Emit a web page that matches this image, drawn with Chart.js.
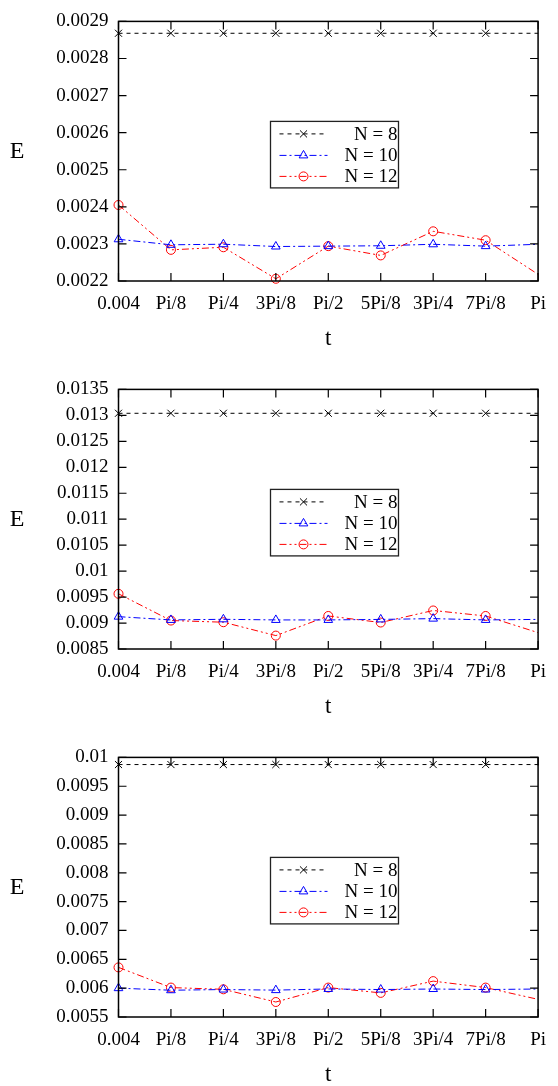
<!DOCTYPE html>
<html>
<head>
<meta charset="UTF-8">
<title>E vs t</title>
<script src="https://cdn.jsdelivr.net/npm/chart.js"></script>
<style>
  body { margin: 0; background: #fff; }
  .panel { position: absolute; left: 0; width: 558px; height: 350px; }
</style>
</head>
<body>
<div class="panel" style="top:0px"><canvas id="c1" width="558" height="350"></canvas></div>
<div class="panel" style="top:368px"><canvas id="c2" width="558" height="350"></canvas></div>
<div class="panel" style="top:736px"><canvas id="c3" width="558" height="350"></canvas></div>

<script>
// x positions (0.004 ... Pi in steps of Pi/8) and their labels
const tPos = [0, 1, 2, 3, 4, 5, 6, 7, 8];
const tLabels = ['0.004', 'Pi/8', 'Pi/4', '3Pi/8', 'Pi/2', '5Pi/8', '3Pi/4', '7Pi/8', 'Pi'];
const seriesNames = ['N = 8', 'N = 10', 'N = 12'];

// panel 1
const e1N8  = [0.002868, 0.002868, 0.002868, 0.002868, 0.002868, 0.002868, 0.002868, 0.002868, 0.002868];
const e1N10 = [0.0023125, 0.0022976, 0.0022992, 0.002293, 0.002294, 0.002295, 0.002299, 0.002294, 0.002299];
const e1N12 = [0.002405, 0.002284, 0.002291, 0.002206, 0.002294, 0.002269, 0.002334, 0.00231, 0.002218];
const yRange1 = [0.0022, 0.0029, 0.0001];

// panel 2
const e2N8  = [0.01304, 0.01304, 0.01304, 0.01304, 0.01304, 0.01304, 0.01304, 0.01304, 0.01304];
const e2N10 = [0.009123, 0.00906, 0.009072, 0.00906, 0.00906, 0.00907, 0.009085, 0.00906, 0.00907];
const e2N12 = [0.009563, 0.009048, 0.009016, 0.008758, 0.009136, 0.00901, 0.009242, 0.009136, 0.008815];
const yRange2 = [0.0085, 0.0135, 0.0005];

// panel 3
const e3N8  = [0.009876, 0.009876, 0.009876, 0.009876, 0.009876, 0.009876, 0.009876, 0.009876, 0.009876];
const e3N10 = [0.006, 0.005964, 0.005976, 0.005966, 0.005986, 0.005976, 0.005985, 0.005976, 0.005985];
const e3N12 = [0.00636, 0.00601, 0.00598, 0.00576, 0.00601, 0.005918, 0.006122, 0.00601, 0.005806];
const yRange3 = [0.0055, 0.01, 0.0005];

const serif = 'Liberation Serif';
Chart.defaults.font.family = serif;
Chart.defaults.color = '#000';

// styles per series
const styles = [
  { color: '#000000', dash: [4, 4], point: 'crossRot', radius: 5 },
  { color: '#0000ff', dash: [7, 3, 2, 3], point: 'triangle', radius: 5 },
  { color: '#ff0000', dash: [7, 3, 2, 3, 2, 3], point: 'circle', radius: 4.5 }
];

function makeDataset(i, vals) {
  const s = styles[i];
  // last point (Pi) sits on the border; gnuplot didn't draw its marker
  const radii = tPos.map((x, k) => k === tPos.length - 1 ? 0 : s.radius);
  return {
    label: seriesNames[i],
    data: tPos.map((x, k) => ({ x: x, y: vals[k] })),
    borderColor: s.color,
    borderWidth: 1,
    borderDash: s.dash,
    pointStyle: s.point,
    pointRadius: radii,
    pointBorderColor: s.color,
    pointBackgroundColor: 'rgba(0,0,0,0)',
    pointBorderWidth: 1,
    fill: false,
    tension: 0,
    clip: false
  };
}

function fmt(v) {
  return String(parseFloat(v.toFixed(6)));
}

// frame, inward ticks, "E" label and legend box
const framePlugin = {
  id: 'frame',
  afterDraw(chart) {
    const ctx = chart.ctx;
    const a = chart.chartArea;
    const xs = chart.scales.x, ys = chart.scales.y;
    ctx.save();
    ctx.strokeStyle = '#000';
    ctx.lineWidth = 1.5;
    ctx.setLineDash([]);
    ctx.strokeRect(a.left, a.top, a.right - a.left, a.bottom - a.top);
    ctx.lineWidth = 1.2;
    ctx.beginPath();
    xs.ticks.forEach(t => {
      const px = xs.getPixelForValue(t.value);
      ctx.moveTo(px, a.bottom); ctx.lineTo(px, a.bottom - 8);
      ctx.moveTo(px, a.top); ctx.lineTo(px, a.top + 8);
    });
    ys.ticks.forEach(t => {
      const py = ys.getPixelForValue(t.value);
      ctx.moveTo(a.left, py); ctx.lineTo(a.left + 8, py);
      ctx.moveTo(a.right, py); ctx.lineTo(a.right - 8, py);
    });
    ctx.stroke();

    // y axis label, horizontal
    ctx.fillStyle = '#000';
    ctx.font = '24px ' + serif;
    ctx.textAlign = 'center';
    ctx.textBaseline = 'middle';
    ctx.fillText('E', 17, 152);

    // legend
    const bx = a.left + 152, by = a.top + 100, bw = 128, bh = 66.5;
    ctx.strokeStyle = '#222';
    ctx.lineWidth = 1.3;
    ctx.strokeRect(bx, by, bw, bh);
    ctx.font = '19px ' + serif;
    ctx.textAlign = 'right';
    const rows = [12.5, 34, 55];
    chart.data.datasets.forEach((ds, i) => {
      const ry = by + rows[i];
      ctx.strokeStyle = ds.borderColor;
      ctx.lineWidth = 1;
      ctx.setLineDash(ds.borderDash);
      ctx.beginPath();
      ctx.moveTo(bx + 9, ry); ctx.lineTo(bx + 57, ry);
      ctx.stroke();
      ctx.setLineDash([]);
      if (Chart.helpers && Chart.helpers.drawPoint) {
        ctx.fillStyle = 'rgba(0,0,0,0)';
        ctx.strokeStyle = ds.borderColor;
        Chart.helpers.drawPoint(ctx, {
          pointStyle: ds.pointStyle, radius: styles[i].radius, rotation: 0, borderWidth: 1
        }, bx + 33, ry);
      }
      ctx.fillStyle = '#000';
      ctx.fillText(ds.label, bx + bw - 1, ry + 1);
    });
    ctx.restore();
  }
};

function makeChart(id, n8, n10, n12, yr) {
  return new Chart(document.getElementById(id), {
    type: 'line',
    data: {
      datasets: [makeDataset(0, n8), makeDataset(1, n10), makeDataset(2, n12)]
    },
    options: {
      responsive: false,
      animation: false,
      devicePixelRatio: 1,
      layout: { padding: { top: 16, right: 9, left: 0, bottom: 0 } },
      plugins: { legend: { display: false }, tooltip: { enabled: false } },
      scales: {
        x: {
          type: 'linear',
          min: 0, max: 8,
          grid: { display: false, drawTicks: false },
          border: { display: false },
          ticks: {
            stepSize: 1,
            padding: 12,
            color: '#000',
            font: { family: serif, size: 19 },
            maxRotation: 0,
            autoSkip: false,
            callback: v => tLabels[tPos.indexOf(v)]
          },
          title: {
            display: true,
            text: 't',
            color: '#000',
            font: { family: serif, size: 23, lineHeight: 1 },
            padding: 0
          },
          afterFit: s => { s.height = 69; }
        },
        y: {
          min: yr[0], max: yr[1],
          grid: { display: false, drawTicks: false },
          border: { display: false },
          ticks: {
            stepSize: yr[2],
            padding: 10,
            color: '#000',
            font: { family: serif, size: 19 },
            callback: v => fmt(v)
          },
          afterFit: s => { s.width = 118.5; }
        }
      }
    },
    plugins: [framePlugin]
  });
}

makeChart('c1', e1N8, e1N10, e1N12, yRange1);
makeChart('c2', e2N8, e2N10, e2N12, yRange2);
makeChart('c3', e3N8, e3N10, e3N12, yRange3);
</script>
</body>
</html>
